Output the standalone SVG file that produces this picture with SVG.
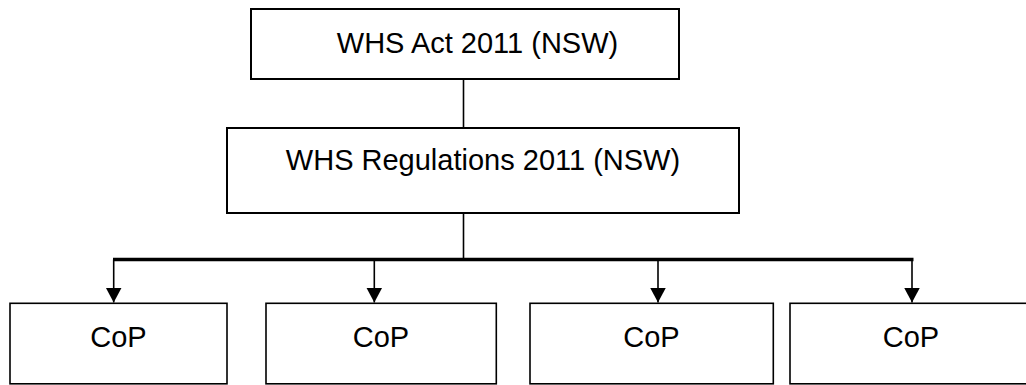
<svg xmlns="http://www.w3.org/2000/svg" width="1026" height="385" viewBox="0 0 1026 385">
<style>
.box{fill:#fff;stroke:#000;stroke-width:1.6}
.t{font-family:"Liberation Sans",Arial,sans-serif;font-size:29px;fill:#000;text-anchor:middle}
.ln{fill:none;stroke:#000;stroke-width:1.6}
.bus{fill:none;stroke:#000;stroke-width:3.5}
</style>
<defs>
<marker id="ah" markerUnits="userSpaceOnUse" markerWidth="16" markerHeight="16" viewBox="0 0 16 16" refX="15" refY="8" orient="auto">
<path d="M0,0 L15,8 L0,16 Z" fill="#000"/>
</marker>
</defs>
<rect width="1026" height="385" fill="#fff"/>
<g id="connectors">
<line class="ln" x1="463.5" y1="79" x2="463.5" y2="128"/>
<line class="ln" x1="463.5" y1="213" x2="463.5" y2="259.5"/>
<line class="bus" x1="113" y1="259.5" x2="913.5" y2="259.5"/>
<line class="ln" x1="113.7" y1="259.5" x2="113.7" y2="302.5" marker-end="url(#ah)"/>
<line class="ln" x1="374.3" y1="259.5" x2="374.3" y2="302.5" marker-end="url(#ah)"/>
<line class="ln" x1="658" y1="259.5" x2="658" y2="302.5" marker-end="url(#ah)"/>
<line class="ln" x1="912" y1="259.5" x2="912" y2="302.5" marker-end="url(#ah)"/>
</g>
<g id="act">
<rect class="box" x="251" y="9" width="428" height="70" style="stroke-width:2"/>
<text class="t" x="477.5" y="53">WHS Act 2011 (NSW)</text>
</g>
<g id="regs">
<rect class="box" x="227" y="128" width="512" height="85" style="stroke-width:2"/>
<text class="t" x="483" y="170">WHS Regulations 2011 (NSW)</text>
</g>
<g id="cop1">
<rect class="box" x="10" y="303.3" width="217" height="80.5"/>
<text class="t" x="118.5" y="346.5">CoP</text>
</g>
<g id="cop2">
<rect class="box" x="266" y="303.3" width="230.3" height="80.5"/>
<text class="t" x="381" y="346.5">CoP</text>
</g>
<g id="cop3">
<rect class="box" x="530" y="303.3" width="243.3" height="80.5"/>
<text class="t" x="651.5" y="346.5">CoP</text>
</g>
<g id="cop4">
<rect class="box" x="790" y="303.3" width="242" height="80.5"/>
<text class="t" x="911" y="346.5">CoP</text>
</g>
</svg>
